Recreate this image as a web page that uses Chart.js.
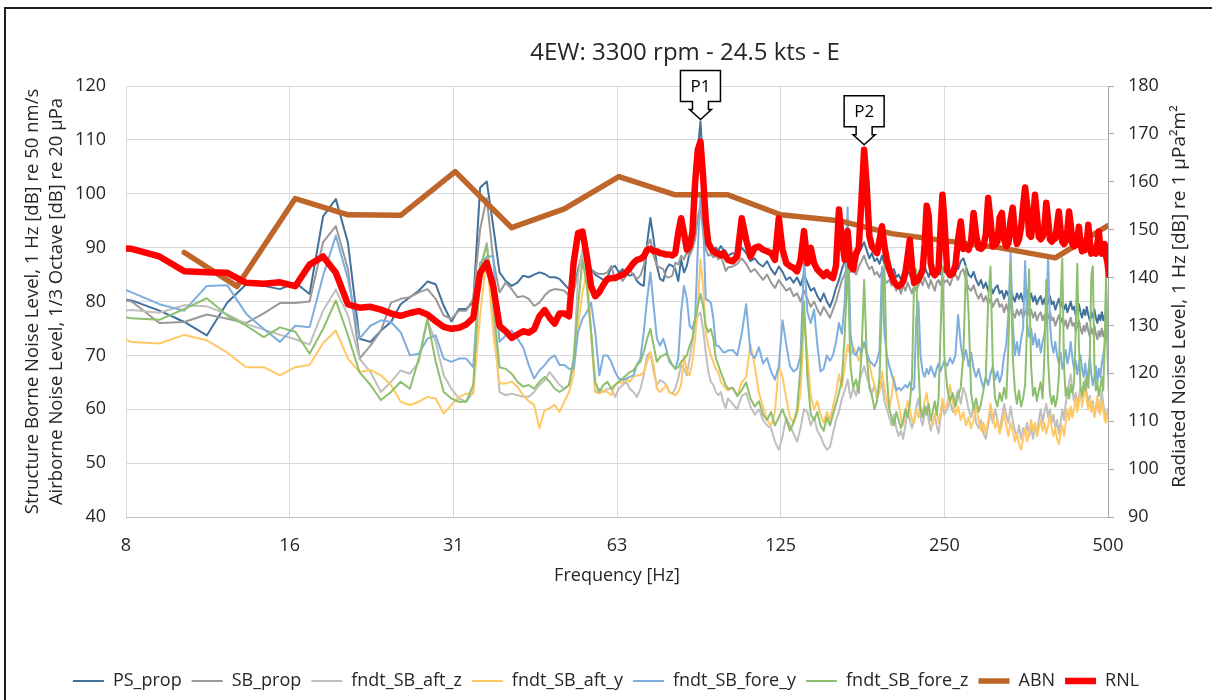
<!DOCTYPE html>
<html>
<head>
<meta charset="utf-8">
<title>4EW: 3300 rpm - 24.5 kts - E</title>
<script src="https://cdn.jsdelivr.net/npm/chart.js@4.4.1/dist/chart.umd.min.js"></script>
<style>
  html, body { margin: 0; padding: 0; background: #fff; overflow: hidden; }
  #wrap { position: relative; width: 1212px; height: 700px; overflow: hidden; }
  #chart { position: absolute; left: 0; top: 0; }
  #frame { position: absolute; left: 4px; top: 7px; width: 1240px; height: 740px;
           border: 2px solid #1e1e1e; pointer-events: none; }
</style>
</head>
<body>
<div id="wrap">
  <canvas id="chart" width="1212" height="700"></canvas>
  <div id="frame"></div>
</div>
<script>
// frequency bins [Hz]: 1 Hz up to 100, then 2 Hz up to 250, then 3 Hz
const FREQ = [
  7, 8, 9, 10, 11, 12, 13, 14, 15, 16,
  17, 18, 19, 20, 21, 22, 23, 24, 25, 26,
  27, 28, 29, 30, 31, 32, 33, 34, 35, 36,
  37, 38, 39, 40, 41, 42, 43, 44, 45, 46,
  47, 48, 49, 50, 51, 52, 53, 54, 55, 56,
  57, 58, 59, 60, 61, 62, 63, 64, 65, 66,
  67, 68, 69, 70, 71, 72, 73, 74, 75, 76,
  77, 78, 79, 80, 81, 82, 83, 84, 85, 86,
  87, 88, 89, 90, 91, 92, 93, 94, 95, 96,
  97, 98, 99, 100,
  102, 104, 106, 108, 110, 112, 114, 116, 118, 120,
  122, 124, 126, 128, 130, 132, 134, 136, 138, 140,
  142, 144, 146, 148, 150, 152, 154, 156, 158, 160,
  162, 164, 166, 168, 170, 172, 174, 176, 178, 180,
  182, 184, 186, 188, 190, 192, 194, 196, 198, 200,
  202, 204, 206, 208, 210, 212, 214, 216, 218, 220,
  222, 224, 226, 228, 230, 232, 234, 236, 238, 240,
  242, 244, 246, 248, 250,
  253, 256, 259, 262, 265, 268, 271, 274, 277, 280,
  283, 286, 289, 292, 295, 298, 301, 304, 307, 310,
  313, 316, 319, 322, 325, 328, 331, 334, 337, 340,
  343, 346, 349, 352, 355, 358, 361, 364, 367, 370,
  373, 376, 379, 382, 385, 388, 391, 394, 397, 400,
  403, 406, 409, 412, 415, 418, 421, 424, 427, 430,
  433, 436, 439, 442, 445, 448, 451, 454, 457, 460,
  463, 466, 469, 472, 475, 478, 481, 484, 487, 490,
  493, 496, 499, 502
];

// structure borne, 1 Hz [dB re 50 nm/s]
const PS_PROP = [
  81.0, 80.2, 78.3, 76.2, 73.7, 79.8, 83.2, 82.9, 82.3, 83.5,
  81.4, 95.8, 99.0, 90.9, 73.1, 72.5, 74.6, 76.2, 79.5, 80.8,
  82.0, 83.7, 83.2, 79.2, 76.3, 78.6, 78.6, 79.8, 101.1, 102.3,
  94.0, 85.4, 83.8, 82.9, 83.5, 84.8, 84.5, 85.0, 85.4, 85.1,
  84.5, 84.5, 84.2, 83.2, 82.3, 82.0, 86.0, 89.0, 88.0, 86.0,
  85.0, 84.5, 84.0, 84.5, 86.3, 86.6, 85.4, 86.0, 85.1, 84.8,
  85.1, 83.8, 83.2, 82.9, 90.9, 95.5, 91.5, 86.6, 84.2, 83.8,
  86.0, 86.9, 86.6, 86.0, 83.8, 87.8, 85.4, 86.6, 89.1, 92.8,
  100.2, 108.2, 113.4, 105.1, 94.0, 90.3, 89.1, 89.4, 90.0, 89.4,
  90.3, 89.7, 89.4, 88.5,
  89.0, 88.5, 90.0, 89.0, 87.5, 88.0, 87.0, 86.5, 87.5, 86.0,
  85.0, 86.5, 85.5, 84.0, 84.5, 83.5, 84.5, 83.0, 85.0, 83.5,
  82.0, 82.5, 81.0, 80.0, 81.5, 80.0, 79.0, 80.5, 82.5, 84.0,
  86.0, 87.5, 89.0, 88.0, 88.5, 87.5, 89.0, 90.0, 91.0, 89.5,
  88.0, 89.0, 87.5, 88.0, 87.0, 88.5, 87.0, 86.0, 86.5, 85.5,
  86.0, 84.5, 85.0, 84.0, 85.5, 84.5, 86.0, 85.0, 84.0, 85.5,
  84.5, 85.0, 86.0, 85.0, 86.5, 85.5, 84.5, 86.0, 85.0, 84.5,
  85.5, 86.0, 85.0, 86.5, 85.5,
  86.0, 85.0, 86.5, 87.0, 86.0, 87.5, 88.0, 86.5, 85.0, 84.5,
  85.5, 84.0, 83.0, 84.0, 82.5, 83.5, 82.0, 83.0, 81.5, 82.5,
  83.0, 81.5, 82.0, 80.5, 82.0, 81.0, 82.5, 81.0, 80.0, 81.5,
  80.5, 81.5, 80.0, 81.0, 82.0, 80.5, 81.5, 80.0, 81.0, 79.5,
  80.5, 81.0, 79.5, 80.5, 79.0, 80.0, 81.0, 79.5, 80.0, 78.5,
  79.5, 80.5, 79.0, 80.0, 78.5, 79.5, 78.0, 79.0, 80.0, 78.5,
  79.0, 77.5, 78.5, 79.5, 78.0, 77.0, 78.5, 77.5, 79.0, 77.5,
  76.5, 78.0, 77.0, 78.5, 77.0, 76.0, 77.5, 76.5, 78.0, 76.5,
  77.5, 76.0, 77.0, 76.5
];

const SB_PROP = [
  81.0, 80.0, 76.0, 76.2, 77.6, 76.8, 76.0, 77.8, 79.7, 79.7,
  80.0, 91.0, 94.0, 86.0, 69.4, 71.8, 74.6, 79.8, 80.5, 80.8,
  81.7, 82.3, 80.5, 77.4, 76.8, 78.3, 78.3, 80.5, 93.4, 99.2,
  87.8, 81.7, 83.5, 82.3, 80.8, 81.0, 80.5, 79.2, 79.8, 81.1,
  82.0, 82.3, 82.2, 82.0, 81.1, 81.7, 85.4, 89.1, 87.8, 86.0,
  85.4, 85.1, 85.1, 85.4, 86.6, 84.2, 84.8, 83.8, 84.8, 86.0,
  84.8, 84.2, 84.8, 86.6, 90.3, 91.5, 88.5, 86.6, 86.3, 86.0,
  84.5, 84.5, 84.8, 87.2, 86.9, 88.5, 87.8, 89.1, 88.5, 89.7,
  91.5, 95.8, 97.7, 92.8, 89.7, 88.5, 88.8, 88.2, 88.5, 87.8,
  88.5, 87.2, 85.7, 86.3,
  86.5, 87.0, 88.0, 87.0, 85.5, 86.0, 85.0, 84.0, 85.0, 83.5,
  82.5, 84.0, 83.0, 82.0, 82.5, 81.0, 81.5, 80.0, 82.0, 80.5,
  79.0, 80.0, 78.5, 77.5, 79.0, 78.0, 77.0, 78.5, 80.0, 82.0,
  84.0, 85.0, 86.5, 85.5, 86.0, 85.0, 86.5, 87.5, 88.5, 87.0,
  86.0, 86.5, 85.0, 85.5, 84.5, 85.5, 84.0, 83.5, 84.0, 83.0,
  83.5, 82.0, 83.0, 81.5, 83.0, 82.0, 83.5, 82.5, 81.5, 83.0,
  82.0, 83.0, 84.0, 83.0, 84.5, 83.5, 82.5, 84.0, 83.0, 82.0,
  83.5, 84.0, 83.0, 84.5, 83.5,
  84.0, 83.0, 84.5, 85.0, 84.0, 85.5, 86.0, 84.0, 82.5, 82.0,
  83.0, 81.5, 80.5, 81.5, 80.0, 81.0, 79.5, 80.5, 79.0, 80.0,
  80.5, 79.0, 79.5, 78.0, 79.5, 78.0, 79.5, 78.0, 77.0, 78.5,
  77.5, 78.5, 77.0, 78.0, 79.0, 77.5, 78.5, 77.0, 78.0, 76.5,
  77.5, 78.0, 76.5, 77.5, 76.0, 77.0, 78.0, 76.5, 77.0, 75.5,
  76.5, 77.5, 76.0, 77.0, 75.5, 76.5, 75.0, 76.0, 77.0, 75.5,
  76.0, 74.5, 75.5, 76.5, 75.0, 74.0, 75.5, 74.5, 76.0, 74.5,
  73.5, 75.0, 74.0, 75.5, 74.0, 73.0, 74.5, 73.5, 75.0, 73.5,
  74.5, 73.0, 74.0, 73.5
];

const SB_AFT_Z = [
  78.0, 78.4, 77.9, 79.3, 79.1, 77.6, 75.8, 74.8, 73.8, 73.0,
  72.0, 78.3, 82.2, 77.4, 69.4, 66.9, 63.2, 65.1, 67.2, 66.6,
  68.8, 76.5, 72.5, 66.3, 63.8, 62.0, 61.4, 63.2, 86.0, 90.9,
  78.0, 63.2, 62.6, 62.9, 62.6, 62.3, 62.3, 63.2, 64.5, 65.4,
  66.9, 65.7, 64.5, 63.8, 64.5, 68.2, 84.8, 89.7, 85.4, 74.3,
  63.2, 63.8, 63.2, 63.8, 63.8, 62.3, 63.8, 64.5, 65.1, 63.8,
  63.2, 62.3, 63.8, 66.3, 70.0, 70.6, 66.9, 64.5, 65.4, 65.1,
  64.5, 63.2, 62.9, 63.8, 65.7, 68.2, 67.5, 66.3, 69.4, 72.5,
  75.5, 77.4, 78.0, 74.9, 70.6, 66.9, 65.1, 64.5, 63.2, 62.6,
  63.2, 61.4, 60.2, 62.0,
  61.0, 60.0, 62.5, 63.0, 60.5, 59.0, 60.0, 58.0, 57.0, 56.5,
  54.0, 52.5, 55.0, 58.5, 57.0, 55.5, 54.0, 56.5, 60.0, 59.5,
  57.0, 58.5, 56.0, 55.0, 53.5, 52.5, 53.0, 55.5, 58.0, 59.5,
  62.0, 63.5, 65.5, 62.0, 64.0, 62.5, 65.0, 66.5, 68.0, 66.0,
  64.5, 63.0, 64.5, 62.0, 63.5, 65.0, 61.5, 60.0, 58.5, 57.0,
  59.0, 56.5, 55.0, 56.0, 54.5, 57.0, 59.5, 58.0, 56.5, 58.0,
  60.5, 62.0, 58.5, 57.0, 59.0, 60.5, 58.0, 56.0, 57.5, 59.0,
  57.0, 55.5, 58.5, 61.0, 59.0,
  60.0, 61.5, 59.5, 62.0, 63.5, 61.0, 64.0, 62.5, 60.0, 58.5,
  60.5, 57.5, 56.5, 58.0, 55.5, 54.5, 57.0, 59.5, 57.5, 60.0,
  58.0, 56.0, 58.5, 61.0, 59.0, 57.5, 60.5, 58.0, 56.0, 55.0,
  57.0, 54.5, 56.5, 55.5, 57.5, 55.0, 56.5, 54.5, 57.0, 55.5,
  58.0, 60.0, 57.5, 59.5, 61.0, 58.5, 60.0, 57.5, 59.0, 56.5,
  58.0, 55.5, 57.5, 60.0, 58.0, 61.0, 63.0, 65.0, 66.5, 63.5,
  61.5, 63.0, 60.5, 62.5, 64.0, 61.5, 63.5, 65.5, 63.0, 61.0,
  62.5, 60.0, 61.5, 59.0, 60.5, 62.0, 59.5, 61.0, 63.5, 61.0,
  59.5, 58.0, 60.0, 59.0
];

const SB_AFT_Y = [
  74.5, 72.5, 72.2, 73.8, 72.8, 70.5, 67.8, 67.8, 66.3, 67.8,
  68.2, 72.3, 74.6, 69.4, 66.9, 67.3, 66.3, 64.5, 61.4, 60.8,
  61.4, 62.3, 62.0, 59.2, 60.8, 62.3, 62.9, 62.9, 77.4, 88.5,
  74.3, 64.8, 64.8, 65.1, 64.2, 62.6, 61.5, 60.8, 56.5, 59.8,
  60.2, 60.8, 59.5, 61.4, 63.2, 66.3, 75.5, 81.7, 85.4, 74.3,
  63.2, 62.9, 63.5, 63.2, 62.6, 64.5, 65.1, 64.8, 65.7, 65.1,
  66.0, 66.3, 66.3, 66.9, 68.8, 70.6, 68.2, 63.8, 63.2, 63.8,
  64.5, 63.2, 62.9, 62.6, 63.2, 64.5, 70.0, 66.9, 66.3, 68.8,
  73.1, 79.2, 87.8, 82.9, 74.3, 71.8, 70.0, 68.8, 67.5, 66.9,
  65.1, 64.5, 63.8, 63.5,
  64.0, 62.5, 65.0, 66.0, 72.0, 68.0, 63.0, 60.5, 58.0, 57.0,
  59.5, 68.0, 66.0, 62.0, 58.5, 57.5, 59.0, 63.0, 77.0, 70.0,
  62.5, 60.0, 61.5, 59.0, 57.5, 59.5, 58.0, 60.5, 63.0, 66.5,
  64.0, 68.0, 72.0, 70.0, 71.5, 70.5, 69.0, 71.0, 72.5, 70.0,
  68.5, 66.0, 64.5, 62.0, 63.5, 67.0, 64.0, 61.5, 60.0, 62.5,
  66.0, 63.0, 61.0, 58.5, 57.0, 59.0, 61.5, 60.0, 58.0, 57.5,
  60.0, 58.5, 60.5, 59.0, 61.5, 63.0, 60.0, 58.5, 57.0, 58.5,
  60.0, 57.5, 59.5, 62.0, 60.0,
  61.0, 64.5, 61.5, 59.0, 60.5, 58.0, 59.5, 57.0, 58.5, 56.5,
  58.0, 60.5, 58.0, 56.0, 57.5, 55.5, 58.0, 61.0, 58.5, 56.5,
  58.0, 55.5, 57.0, 59.5, 57.0, 55.0, 57.5, 56.0, 54.0, 55.5,
  53.5, 52.5, 54.5, 56.5, 54.0, 55.5, 58.0, 56.0, 57.5, 55.0,
  56.5, 58.0, 56.0, 57.5, 55.5, 57.0, 59.0, 56.5, 55.0, 56.5,
  54.5, 53.5, 55.5, 57.0, 55.0, 57.5, 60.0, 58.0, 60.5, 58.5,
  60.0, 62.0, 59.5, 61.5, 63.0, 60.5, 62.5, 64.0, 61.5, 60.0,
  62.0, 59.5, 61.0, 58.5, 60.0, 62.5, 60.0, 59.0, 61.5, 60.0,
  58.0, 57.5, 59.5, 58.0
];

const SB_FORE_Y = [
  84.0, 81.7, 79.5, 78.3, 82.9, 83.0, 77.7, 74.9, 72.5, 75.5,
  75.2, 84.8, 92.2, 84.2, 73.1, 75.5, 76.5, 76.2, 74.3, 70.0,
  70.3, 73.1, 73.7, 69.4, 68.8, 69.4, 69.4, 67.8, 87.2, 88.2,
  88.5, 72.5, 73.7, 74.6, 73.1, 71.5, 68.2, 65.7, 67.2, 68.2,
  69.4, 70.0, 68.2, 68.2, 67.5, 67.5, 74.3, 76.8, 78.0, 79.8,
  74.3, 66.3, 70.0, 70.0, 68.8, 66.9, 65.7, 65.4, 65.7, 66.0,
  66.3, 68.2, 69.4, 74.3, 80.5, 85.4, 79.2, 73.1, 71.8, 73.1,
  71.2, 68.8, 68.2, 67.5, 69.4, 78.0, 82.9, 80.5, 75.5, 74.9,
  76.8, 89.7, 100.0, 95.0, 80.5, 80.2, 79.8, 76.8, 71.8, 71.8,
  71.2, 70.6, 70.6, 70.9,
  71.0, 70.0, 74.0, 79.5, 70.5, 69.5, 71.5, 68.5, 69.5, 67.0,
  65.5, 68.0, 76.5, 72.0, 68.0, 67.0, 67.5, 70.0, 88.0, 78.0,
  76.0, 78.5, 72.0, 67.0, 67.5, 70.0, 69.0, 70.0, 72.5, 76.0,
  74.0, 80.0, 97.5, 74.0, 70.5, 70.0, 71.5, 70.5, 72.5, 70.5,
  69.0, 68.5, 68.0, 69.0, 71.0, 86.5, 74.0, 70.0, 68.0, 66.5,
  65.0, 63.5, 64.0, 63.5, 64.0, 64.5, 64.0, 65.0, 63.5, 64.0,
  77.0, 80.0, 70.0, 67.0, 66.0, 67.5, 66.5, 68.0, 67.0, 66.0,
  67.5, 68.5, 67.0, 68.0, 69.0,
  68.0, 69.5, 68.5, 70.0, 77.5, 72.0, 69.0, 71.0, 68.0, 70.5,
  67.5, 66.0, 67.5, 65.5, 64.0, 66.0, 64.5, 66.5, 68.0, 65.5,
  67.0, 65.0, 66.5, 70.0, 72.0, 78.0, 89.0, 76.0, 70.0, 72.5,
  70.0, 73.0, 75.0, 87.5, 76.0, 73.5, 75.0, 72.0, 74.0, 71.5,
  73.0, 70.5, 72.5, 74.0, 78.0, 88.0, 76.0, 72.0, 70.5, 72.5,
  70.0, 68.5, 70.5, 67.5, 69.0, 71.0, 68.5, 70.0, 72.5, 69.5,
  67.5, 69.0, 66.5, 68.5, 70.0, 67.5, 66.0, 68.5, 65.5, 67.0,
  69.5, 66.5, 64.5, 66.0, 68.0, 65.0, 67.5, 66.0, 68.5, 70.0,
  72.0, 82.0, 74.0, 68.0
];

const SB_FORE_Z = [
  77.8, 76.9, 76.6, 78.6, 80.6, 77.4, 75.5, 73.4, 75.2, 74.4,
  70.3, 74.9, 80.2, 73.7, 66.9, 64.5, 61.7, 63.2, 65.1, 63.8,
  69.4, 76.8, 68.8, 63.2, 62.0, 61.4, 61.4, 64.5, 86.0, 90.6,
  79.8, 67.8, 67.5, 66.6, 65.1, 64.2, 64.5, 63.8, 65.1, 66.0,
  65.1, 63.8, 63.2, 63.8, 64.5, 69.4, 79.2, 87.8, 82.9, 74.3,
  65.1, 63.2, 64.5, 65.1, 63.8, 64.5, 65.1, 65.7, 66.3, 66.9,
  67.2, 68.2, 68.8, 70.6, 73.1, 74.9, 71.8, 68.8, 69.7, 70.0,
  70.3, 69.4, 68.2, 67.5, 67.8, 68.8, 69.4, 70.0, 71.8, 73.1,
  76.8, 79.2, 81.4, 79.2, 75.5, 74.3, 74.9, 73.1, 69.4, 68.2,
  66.9, 65.7, 64.5, 63.8,
  64.0, 62.5, 63.5, 65.0, 62.0, 60.5, 61.5, 59.0, 58.0, 59.5,
  57.0, 58.5, 60.0, 58.0, 56.0, 57.5, 60.0, 68.0, 80.0, 66.0,
  59.0, 58.0, 59.5, 57.0, 56.0, 58.5, 57.0, 59.0, 61.0, 63.0,
  65.5, 74.0, 87.0, 68.0, 64.0, 65.5, 63.0, 70.0, 84.0, 70.0,
  64.0, 62.5, 60.0, 61.5, 66.0, 80.0, 87.0, 66.0, 60.0, 58.5,
  57.0, 59.5, 58.0, 56.5, 58.0, 60.0, 58.5, 61.0, 66.0, 84.0,
  86.0, 68.0, 60.0, 58.5, 60.5, 59.0, 61.0, 58.0, 59.5, 61.5,
  59.0, 62.0, 74.0, 86.5, 70.0,
  64.0, 61.5, 63.0, 60.5, 62.5, 64.0, 70.0, 86.5, 78.0, 63.0,
  60.0, 62.0, 59.5, 61.0, 63.5, 66.0, 80.0, 86.5, 68.0, 62.0,
  60.5, 63.0, 61.5, 64.0, 62.0, 72.0, 87.0, 70.0, 63.5, 61.0,
  63.5, 60.5, 62.0, 64.5, 76.0, 86.0, 68.0, 62.5, 64.0, 61.5,
  63.5, 65.0, 62.0, 70.0, 84.0, 69.0, 63.0, 61.0, 62.5, 60.5,
  62.0, 66.0, 80.0, 88.0, 68.0, 62.5, 64.0, 62.0, 64.5, 63.0,
  65.0, 74.0, 87.0, 72.0, 64.0, 62.5, 65.0, 63.5, 66.0, 64.0,
  70.0, 85.0, 86.5, 68.0, 63.5, 65.0, 62.5, 64.0, 66.0, 63.5,
  72.0, 85.0, 70.0, 63.0
];

// radiated noise level, 1 Hz [dB re 1 µPa²m²] (right axis)
const RNL = [
  146.5, 146.0, 144.4, 141.3, 141.1, 141.0, 138.9, 138.7, 139.0, 138.2,
  142.7, 144.4, 141.0, 134.4, 133.7, 133.9, 133.3, 132.5, 132.0, 132.6,
  133.0, 132.3, 130.9, 129.7, 129.3, 129.5, 130.2, 131.6, 141.0, 143.1,
  138.2, 129.9, 128.8, 127.4, 128.1, 128.8, 128.5, 129.2, 131.9, 133.2,
  131.6, 130.4, 132.5, 132.5, 131.9, 143.0, 149.3, 149.6, 144.4, 138.2,
  136.1, 137.0, 138.5, 139.7, 139.9, 139.9, 140.3, 140.6, 141.1, 142.0,
  143.0, 143.7, 143.9, 144.4, 145.8, 146.0, 145.5, 145.5, 145.1, 145.0,
  144.8, 144.8, 144.6, 145.1, 149.3, 152.4, 149.3, 145.8, 146.5, 149.3,
  159.7, 166.7, 168.4, 161.1, 152.1, 147.2, 146.2, 145.5, 145.1, 145.0,
  144.6, 145.1, 144.4, 143.7,
  143.4, 144.4, 152.4, 147.9, 144.4, 146.2, 146.5, 145.8, 145.5, 145.1,
  143.7, 152.4, 145.8, 143.0, 142.4, 142.0, 141.3, 143.7, 149.7, 143.0,
  146.2, 143.0, 141.7, 141.0, 140.3, 141.1, 140.3, 139.9, 142.4, 154.2,
  147.9, 143.7, 149.7, 142.4, 141.7, 145.1, 146.2, 156.2, 166.7, 159.0,
  148.6, 146.5, 145.8, 145.1, 147.9, 150.7, 146.5, 143.7, 141.7, 140.3,
  139.2, 138.5, 138.2, 138.5, 139.2, 141.0, 144.4, 147.9, 142.4, 138.9,
  139.2, 139.6, 140.5, 141.5, 147.0, 155.0, 153.0, 143.0, 141.0, 140.5,
  141.0, 142.0, 150.0, 157.3, 152.0,
  141.5, 140.5, 140.8, 142.5, 148.0, 151.7, 146.0, 146.5, 145.8, 147.5,
  153.5, 149.0, 146.2, 146.0, 146.5, 149.0, 156.6, 152.0, 146.5, 146.8,
  147.5, 152.5, 153.5, 148.0, 146.5, 147.2, 152.0, 154.6, 149.5, 147.0,
  148.0, 150.5, 155.0, 158.8, 155.0, 149.0, 148.5, 152.0, 157.3, 153.0,
  148.5, 148.0, 148.5, 150.5, 155.6, 152.0, 148.0, 147.5, 148.0, 148.2,
  151.0, 153.8, 150.0, 147.5, 147.0, 147.5, 150.0, 153.8, 151.0, 147.0,
  146.5, 146.8, 148.0, 150.6, 147.0, 145.5, 146.0, 145.8, 147.0, 151.0,
  147.5, 145.0, 145.5, 146.0, 145.0, 147.0, 149.6, 146.0, 145.0, 146.0,
  147.0, 144.5, 143.0, 140.5
];

// airborne noise, 1/3 octave bands [dB re 20 µPa]
const ABN_FREQ = [10, 12.5, 16, 20, 25, 31.5, 40, 50, 63, 80, 100, 125, 160, 200, 250, 315, 400, 500];
const ABN = [89.1, 82.8, 99.1, 96.1, 96.0, 104.1, 93.7, 97.2, 103.2, 99.8, 99.8, 96.1, 95.0, 92.6, 91.3, 90.0, 88.1, 94.1];

// octave ticks on the log axis, shown rounded (8, 16, 31, 63 ...)
const X_TICKS = [7.8125, 15.625, 31.25, 62.5, 125, 250, 500];

const CHART_TITLE = '4EW: 3300 rpm - 24.5 kts - E';
const RIGHT_TITLE = 'Radiated Noise Level, 1 Hz [dB] re 1 µPa²m²';

const CALLOUTS = [
  { label: 'P1', freq: 89, series: PS_PROP, axis: 'yL', gap: 2 },
  { label: 'P2', freq: 178, series: RNL, axis: 'yR', gap: 5 }
];

const FONT = "'Open Sans', 'Noto Sans', sans-serif";
const TEXT = '#262626';
const GRID = '#d9d9d9';

[PS_PROP, SB_PROP, SB_AFT_Z, SB_AFT_Y, SB_FORE_Y, SB_FORE_Z, RNL].forEach((s, i) => {
  if (s.length !== FREQ.length) console.warn('series ' + i + ' length', s.length, FREQ.length);
});

const toPoints = (xs, ys) => xs.map((x, i) => ({ x: x, y: ys[i] }));

function lineSet(label, xs, ys, color, width, order, axis) {
  return {
    label: label,
    data: toPoints(xs, ys),
    borderColor: color,
    backgroundColor: color,
    borderWidth: width,
    pointRadius: 0,
    pointHoverRadius: 0,
    pointBorderWidth: width,
    pointBorderColor: color,
    pointBackgroundColor: color,
    borderJoinStyle: 'round',
    borderCapStyle: 'round',
    tension: 0,
    fill: false,
    clip: 0,
    order: order,
    yAxisID: axis
  };
}

// boxed label with a down arrow, tip placed just above the peak
function drawCallout(ctx, tx, ty, text) {
  const halfW = 20, h = 31;
  const top = ty - 49;
  ctx.save();
  ctx.beginPath();
  ctx.moveTo(tx - halfW, top);
  ctx.lineTo(tx + halfW, top);
  ctx.lineTo(tx + halfW, top + h);
  ctx.lineTo(tx + 8, top + h);
  ctx.lineTo(tx + 8, ty - 10);
  ctx.lineTo(tx + 11, ty - 10);
  ctx.lineTo(tx, ty);
  ctx.lineTo(tx - 11, ty - 10);
  ctx.lineTo(tx - 8, ty - 10);
  ctx.lineTo(tx - 8, top + h);
  ctx.lineTo(tx - halfW, top + h);
  ctx.closePath();
  ctx.fillStyle = '#ffffff';
  ctx.fill();
  ctx.lineWidth = 1.5;
  ctx.strokeStyle = '#000000';
  ctx.lineJoin = 'miter';
  ctx.stroke();
  ctx.fillStyle = '#000000';
  ctx.font = '17px ' + FONT;
  ctx.textAlign = 'center';
  ctx.textBaseline = 'middle';
  ctx.fillText(text, tx, top + h / 2 + 1);
  ctx.restore();
}

const calloutPlugin = {
  id: 'peakCallouts',
  afterDatasetsDraw(chart) {
    const { ctx, scales } = chart;
    CALLOUTS.forEach(c => {
      const i = FREQ.indexOf(c.freq);
      const tx = scales.x.getPixelForValue(c.freq);
      const ty = scales[c.axis].getPixelForValue(c.series[i]) - c.gap;
      drawCallout(ctx, tx, ty, c.label);
    });
  }
};

// chart title sits right of centre, right axis title reads bottom-to-top
const titlesPlugin = {
  id: 'titles',
  afterDraw(chart) {
    const { ctx, chartArea } = chart;
    ctx.save();
    ctx.fillStyle = TEXT;
    ctx.textAlign = 'center';
    ctx.textBaseline = 'middle';
    ctx.font = '24px ' + FONT;
    ctx.fillText(CHART_TITLE, 685, 53);
    ctx.translate(1180, (chartArea.top + chartArea.bottom) / 2 - 5);
    ctx.rotate(-Math.PI / 2);
    ctx.font = '19px ' + FONT;
    ctx.fillText(RIGHT_TITLE, 0, 0);
    ctx.restore();
  }
};

new Chart(document.getElementById('chart').getContext('2d'), {
  type: 'line',
  data: {
    datasets: [
      lineSet('PS_prop', FREQ, PS_PROP, '#41719c', 2, 8, 'yL'),
      lineSet('SB_prop', FREQ, SB_PROP, '#999999', 2, 7, 'yL'),
      lineSet('fndt_SB_aft_z', FREQ, SB_AFT_Z, '#bfbfbf', 2, 6, 'yL'),
      lineSet('fndt_SB_aft_y', FREQ, SB_AFT_Y, '#ffc864', 2, 5, 'yL'),
      lineSet('fndt_SB_fore_y', FREQ, SB_FORE_Y, '#7eaedd', 2, 4, 'yL'),
      lineSet('fndt_SB_fore_z', FREQ, SB_FORE_Z, '#8dbf6f', 2, 3, 'yL'),
      lineSet('ABN', ABN_FREQ, ABN, '#be6529', 5.5, 2, 'yL'),
      lineSet('RNL', FREQ, RNL, '#ff0000', 6.5, 1, 'yR')
    ]
  },
  options: {
    responsive: false,
    animation: false,
    devicePixelRatio: 1,
    events: [],
    layout: { padding: { top: 86, left: 0, right: 0, bottom: 0 } },
    plugins: {
      tooltip: { enabled: false },
      title: { display: false },
      legend: {
        position: 'bottom',
        labels: {
          usePointStyle: true,
          pointStyle: 'line',
          pointStyleWidth: 31,
          padding: 10,
          color: TEXT,
          font: { family: FONT, size: 18 },
          sort: (a, b) => a.datasetIndex - b.datasetIndex
        }
      }
    },
    scales: {
      x: {
        type: 'logarithmic',
        position: 'bottom',
        min: 7.8125,
        max: 500,
        afterBuildTicks: (s) => { s.ticks = X_TICKS.map(v => ({ value: v })); },
        afterFit: (s) => { s.height = 145; },
        ticks: {
          callback: (v) => String(Math.round(v)),
          autoSkip: false,
          maxRotation: 0,
          padding: 18,
          color: TEXT,
          font: { family: FONT, size: 18 }
        },
        grid: { color: GRID, drawTicks: false },
        border: { display: true, color: '#bfbfbf' },
        title: {
          display: true,
          text: 'Frequency [Hz]',
          color: TEXT,
          font: { family: FONT, size: 18 },
          padding: { top: 0, bottom: 75 }
        }
      },
      yL: {
        type: 'linear',
        position: 'left',
        min: 40,
        max: 120,
        afterFit: (s) => { s.width = 126; },
        ticks: { stepSize: 10, padding: 20, color: TEXT, font: { family: FONT, size: 18 } },
        grid: { color: GRID, drawTicks: false },
        border: { display: false },
        title: {
          display: true,
          text: ['Structure Borne Noise Level, 1 Hz [dB] re 50 nm/s',
                 'Airborne Noise Level, 1/3 Octave [dB] re 20 µPa'],
          color: TEXT,
          font: { family: FONT, size: 18.5, lineHeight: 1.3 },
          padding: { top: 21, bottom: 0 }
        }
      },
      yR: {
        type: 'linear',
        position: 'right',
        min: 90,
        max: 180,
        afterFit: (s) => { s.width = 104; },
        ticks: { stepSize: 10, padding: 14, color: TEXT, font: { family: FONT, size: 18 } },
        grid: { drawOnChartArea: false, drawTicks: true, tickLength: 6, color: '#a6a6a6' },
        border: { display: true, color: '#a6a6a6' },
        title: { display: false }
      }
    }
  },
  plugins: [calloutPlugin, titlesPlugin]
});
</script>
</body>
</html>
